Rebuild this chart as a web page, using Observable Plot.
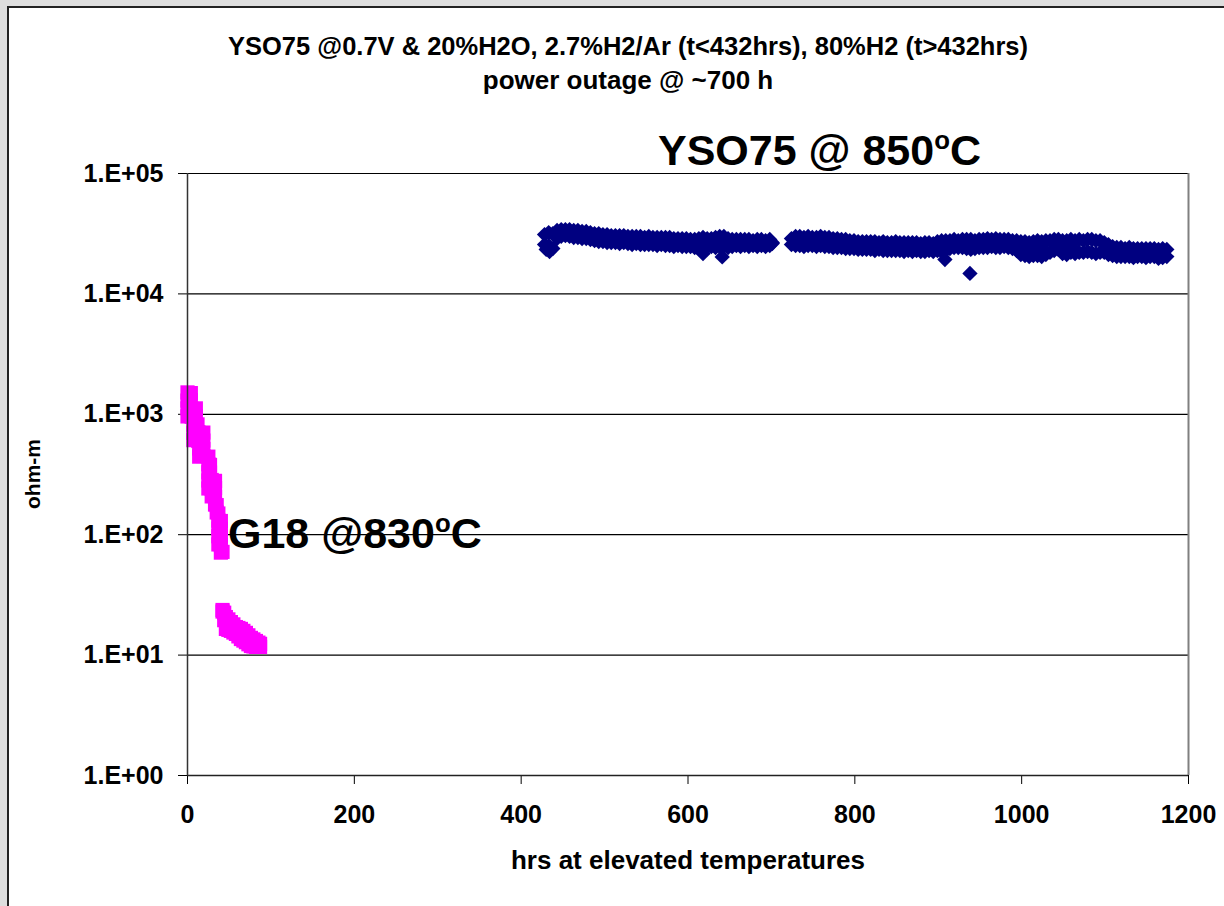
<!DOCTYPE html>
<html><head><meta charset="utf-8">
<script src="https://cdn.jsdelivr.net/npm/d3@7"></script>
<script src="https://cdn.jsdelivr.net/npm/@observablehq/plot@0.6"></script>
<style>
html,body{margin:0;padding:0;}
body{width:1224px;height:906px;overflow:hidden;background:#dedede;position:relative;font-family:"Liberation Sans",Arial,sans-serif;}
#frame{position:absolute;left:7px;top:6px;width:1300px;height:1000px;background:#fff;border-left:2px solid #222;border-top:2px solid #222;}
#chart{position:absolute;left:0;top:0;width:1224px;height:906px;}
</style></head><body>
<div id="frame"></div><div id="chart"></div>
<script>
// ---- text ----
const titleLine1 = "YSO75 @0.7V & 20%H2O, 2.7%H2/Ar (t<432hrs), 80%H2 (t>432hrs)";
const titleLine2 = "power outage @ ~700 h";
const xTitle = "hrs at elevated temperatures";
const yTitle = "ohm-m";
const ysoLabel = ["YSO75 @ 850", "o", "C"];
const g18Label = ["G18 @830", "o", "C"];

// ---- ticks ----
const xTicks = [0, 200, 400, 600, 800, 1000, 1200];
const yTicks = [1, 10, 100, 1000, 10000, 100000];
const yTickLabels = ["1.E+00", "1.E+01", "1.E+02", "1.E+03", "1.E+04", "1.E+05"];

// ---- G18 @830C (hours, ohm-m) ----
const g18Hours = [0,4, 0,4, 0,5,10, 0,5,10, 7,12, 7,13,19, 7,13,19, 14,19, 14,19,25, 25,27, 25,27, 25,29,33, 25,29,33, 29,33, 33,35, 35,37, 37,40, 37,40, 37,40, 37,40, 40,42,
  42,44,46,49,52,55,58,61,64,67,70,73,76,79,82,85,87,
  42,44,46,49,52,55,58,61,64,67,70,73,76,79,82,85,87];
const g18Ohm = [1520,1500, 1300,1310, 1120,1110,1120, 960,955,960, 820,825, 700,710,705, 610,600,605, 520,515, 445,450,445, 385,380, 330,328, 282,285,280, 242,240,244, 208,206, 178,176, 153,150, 131,130, 113,112, 97,96, 83,82, 71,72,
  23.7,22.5,20.7,19.8,18.8,18.0,17.1,16.8,16.5,15.9,15.3,14.6,13.9,13.5,13.1,12.7,12.4,
  23.0,19.5,16.5,16.2,15.9,15.4,15.0,14.3,13.6,13.2,12.8,12.3,11.9,11.8,11.7,11.7,11.7];

// ---- YSO75 @850C : upper and lower edge of the scatter band (hours, ohm-m) ----
const ysoHours = [428,433,438,443,448,453,458,463,468,473,478,483,488,493,498,503,508,513,518,523,528,533,538,543,548,553,558,563,568,573,578,583,588,593,598,603,608,613,618,623,628,633,638,643,648,653,658,663,668,673,678,683,688,693,698,701,
  724,729,734,739,744,749,754,759,764,769,774,779,784,789,794,799,804,809,814,819,824,829,834,839,844,849,854,859,864,869,874,879,884,889,894,899,904,909,914,919,924,929,934,939,944,949,954,959,964,969,974,979,984,989,994,999,1004,1009,1014,1019,1024,1029,1034,1039,1044,1049,1054,1059,1064,1069,1074,1079,1084,1089,1094,1099,1104,1109,1114,1119,1124,1129,1134,1139,1144,1149,1154,1159,1164,1169,1174];
const ysoUpper = [31100,32300,31700,33600,34200,34200,34200,33600,33600,33000,33000,32300,31700,31700,31100,31100,30500,30500,30500,30500,30000,30000,30000,30000,29400,30000,29400,29400,29400,29400,29400,28800,28800,28800,28800,28300,28300,28800,29400,28800,28800,29400,30000,30000,28800,28300,28300,28300,28300,28300,27700,28300,28300,27700,28300,26700,
  28800,30000,30000,29400,30000,29400,29400,30000,29400,29400,28800,28800,28300,28300,27700,27700,27200,27200,27200,27200,27200,26700,27200,26700,26700,27200,26700,26700,26700,26700,26700,26200,26700,26700,26200,27200,27700,27700,27700,28300,27700,28300,28300,28300,27700,28300,28300,28800,28300,28800,28300,28300,28300,27700,27700,27200,27200,26700,27200,27700,27200,27700,27700,28300,28300,27700,27700,28300,27700,28300,27700,28300,28300,27700,27700,26700,25700,24700,24300,24300,23800,24300,23800,23800,23800,23800,23800,23800,23400,23800,23400];
const ysoLower = [25700,25200,23800,28800,30000,30500,30000,29400,29400,28800,28800,28300,27700,27200,27200,26700,26700,26700,26200,26700,26200,25700,26200,25700,25700,25700,25700,25200,25700,25200,25200,24700,25200,24700,24700,24700,24300,23800,24300,24300,24700,24300,24700,24700,24300,24700,25200,24700,25200,24700,25200,24700,25200,24700,25200,26200,
  25700,25200,25200,24700,25200,25200,24700,25200,24700,24700,24300,24300,24300,23800,23800,23800,23400,23400,23400,23400,22900,23400,22900,22900,22900,22900,22900,22500,22900,22500,22900,22500,22500,22900,22500,22900,22500,22900,23800,24300,24300,24300,23800,23400,23800,24300,24300,24300,24700,24300,24300,24700,24300,23800,22900,21200,20800,20400,20800,20800,20400,21200,22100,22900,23400,21600,21200,22100,21600,22100,22100,22500,22100,21600,22100,22100,21200,20800,20400,20400,20400,20400,20000,20400,20400,20000,20400,20400,19700,20000,20400];
// isolated points sticking out of the band
const ysoExtraHours = [430,434,618,641,908,938,1001,1006,1011,1016,1021,1026,1051,1056,1061];
const ysoExtraOhm = [23400,22500,21600,20300,19300,14800,23800,23800,23800,23800,23800,23800,24300,24300,24300];

// ---- build tables ----
const g18 = g18Hours.map((h, i) => ({h, v: g18Ohm[i]}));
const yso = [
  ...ysoHours.map((h, i) => ({h, v: ysoUpper[i]})),
  ...ysoHours.map((h, i) => ({h, v: ysoLower[i]})),
  ...ysoExtraHours.map((h, i) => ({h, v: ysoExtraOhm[i]}))
];

const font = "'Liberation Sans', Arial, Helvetica, sans-serif";
const plot = Plot.plot({
  width: 1224, height: 906,
  marginLeft: 187, marginRight: 36, marginTop: 173, marginBottom: 131,
  style: {background: "transparent", fontFamily: font, fontSize: "25px", fontWeight: "bold", color: "#000", overflow: "visible"},
  x: {domain: [0, 1200], ticks: xTicks, tickSize: 9, tickPadding: 21, tickFormat: d => String(d), label: null},
  y: {type: "log", domain: [1, 100000], ticks: yTicks, tickSize: 9, tickPadding: 15,
      tickFormat: d => yTickLabels[yTicks.indexOf(d)], label: null},
  marks: [
    Plot.ruleY(yTicks.slice(1), {stroke: "#000", strokeWidth: 1.2}),
    Plot.ruleX([1200], {stroke: "#808080", strokeWidth: 2}),
    Plot.dot(g18, {x: "h", y: "v", symbol: "square", r: 8, fill: "#ff00ff"}),
    Plot.dot(yso, {x: "h", y: "v", symbol: "diamond2", r: 6.9, fill: "#000080"}),
    Plot.ruleY([1], {stroke: "#222", strokeWidth: 1.5}),
    Plot.ruleX([0], {stroke: "#333", strokeWidth: 1.5})
  ]
});
document.getElementById("chart").appendChild(plot);

const svg = d3.select(plot);
function addText(str, x, y, size, opts = {}) {
  const t = svg.append("text").attr("x", x).attr("y", y)
    .attr("font-family", font).attr("font-weight", "bold").attr("font-size", size)
    .attr("fill", "#000").attr("text-anchor", opts.anchor || "start");
  if (opts.len) t.attr("textLength", opts.len).attr("lengthAdjust", "spacingAndGlyphs");
  if (opts.transform) t.attr("transform", opts.transform);
  t.text(str);
  return t;
}
addText(titleLine1, 628, 55, 26, {anchor: "middle", len: 800});
addText(titleLine2, 628, 89, 26, {anchor: "middle"});
addText(xTitle, 688, 869, 26, {anchor: "middle"});
addText(yTitle, 0, 0, 21, {anchor: "middle", transform: "translate(40,474) rotate(-90)"});

function addSupLabel(parts, x, y, size) {
  const t = svg.append("text").attr("x", x).attr("y", y).attr("text-anchor", "start")
    .attr("font-family", font).attr("font-weight", "bold").attr("font-size", size).attr("fill", "#000");
  t.append("tspan").text(parts[0]);
  t.append("tspan").attr("font-size", size * 0.6).attr("dy", -size * 0.38).text(parts[1]);
  t.append("tspan").attr("dy", size * 0.38).text(parts[2]);
}
addSupLabel(ysoLabel, 658, 165, 43);
addSupLabel(g18Label, 228, 548, 43);
</script></body></html>
